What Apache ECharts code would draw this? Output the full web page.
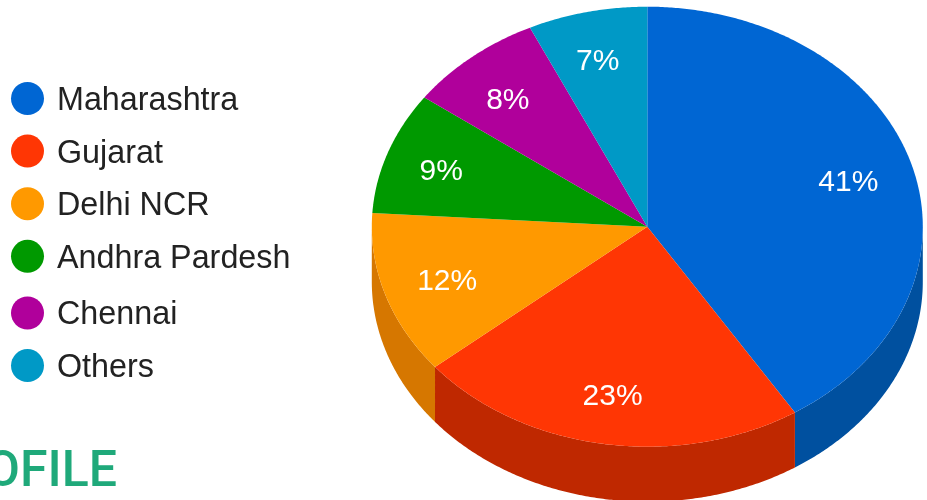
<!DOCTYPE html>
<html>
<head>
<meta charset="utf-8">
<style>
  html, body { margin: 0; padding: 0; background: #fff; }
  #main { width: 927px; height: 500px; }
</style>
<script src="https://cdn.jsdelivr.net/npm/echarts@6/dist/echarts.min.js"></script>
</head>
<body>
<div id="main"></div>
<script>
const states = ["Maharashtra", "Gujarat", "Delhi NCR", "Andhra Pardesh", "Chennai", "Others"];
const shares = [41, 23, 12, 9, 8, 7];
const topColors = ["#0066d3", "#ff3604", "#ff9900", "#009900", "#b0009b", "#0099c6"];
const sideColors = ["#00509f", "#bf2800", "#d67700", "#007300", "#840074", "#007394"];

// the pie is an ellipse with a wall under it
const CX = 647.3, CY = 226.7, RX = 275.5, RY = 220, DEPTH = 55;
const LABEL_R = 0.76;
// small hand shifts so the labels land where the original has them
const labelShift = [[0, 3], [-2, 5], [-1, 3], [-9, 2], [-6, 3], [-4, -2]];

const total = shares.reduce((a, b) => a + b, 0);

function rimPoint(t, dy) {
  return [CX + RX * Math.sin(t), CY - RY * Math.cos(t) + dy];
}

function arcPoints(from, to, dy) {
  const pts = [];
  const steps = Math.max(2, Math.ceil((to - from) / 0.008));
  for (let k = 0; k <= steps; k++) {
    pts.push(rimPoint(from + (to - from) * k / steps, dy));
  }
  return pts;
}

function sliceRenderer(index) {
  const before = shares.slice(0, index).reduce((a, b) => a + b, 0);
  const from = before / total * Math.PI * 2;
  const to = (before + shares[index]) / total * Math.PI * 2;
  return function () {
    const children = [];
    // wall only shows on the front half
    const wallFrom = Math.max(from, Math.PI / 2);
    const wallTo = Math.min(to, Math.PI * 1.5);
    if (wallTo > wallFrom) {
      const upper = arcPoints(wallFrom, wallTo, 0);
      const lower = arcPoints(wallFrom, wallTo, DEPTH).reverse();
      children.push({
        type: "polygon",
        shape: { points: upper.concat(lower) },
        style: { fill: sideColors[index] }
      });
    }
    children.push({
      type: "polygon",
      shape: { points: [[CX, CY]].concat(arcPoints(from, to, 0)) },
      style: { fill: topColors[index] }
    });
    const mid = (from + to) / 2;
    children.push({
      type: "text",
      style: {
        text: shares[index] + "%",
        x: CX + RX * LABEL_R * Math.sin(mid) + labelShift[index][0],
        y: CY - RY * LABEL_R * Math.cos(mid) + labelShift[index][1],
        fill: "#fff",
        font: "30px 'Liberation Sans'",
        align: "center",
        verticalAlign: "middle"
      }
    });
    return { type: "group", children: children };
  };
}

const legendBase = {
  left: 6,
  orient: "vertical",
  icon: "circle",
  itemWidth: 33,
  itemHeight: 33,
  itemGap: 17.6,
  selectedMode: false,
  // empty tall token pushes the name down a bit so its caps centre on the dot
  formatter: name => "{s|\u200b}{t|" + name + "}",
  textStyle: {
    padding: [0, 0, 0, 8],
    rich: {
      s: { height: 37, width: 0, fontSize: 1 },
      t: {
        fontFamily: "Liberation Sans",
        fontSize: 32.3,
        color: "#222",
        lineHeight: 33,
        verticalAlign: "bottom"
      }
    }
  }
};

const option = {
  animation: false,
  backgroundColor: "#fff",
  legend: [
    Object.assign({}, legendBase, { top: 77, data: states.slice(0, 4) }),
    Object.assign({}, legendBase, { top: 291.5, data: states.slice(4) })
  ],
  graphic: [{
    type: "text",
    silent: true,
    style: {
      text: "OFILE",
      x: 117,
      y: 473,
      fill: "#1fa97a",
      font: "500 50px Roboto",
      align: "right",
      verticalAlign: "middle"
    }
  }],
  series: states.map((name, i) => ({
    type: "custom",
    name: name,
    coordinateSystem: "none",
    silent: true,
    itemStyle: { color: topColors[i] },
    data: [shares[i]],
    renderItem: sliceRenderer(i)
  }))
};

const myChart = echarts.init(document.getElementById("main"));
myChart.setOption(option);
</script>
</body>
</html>
